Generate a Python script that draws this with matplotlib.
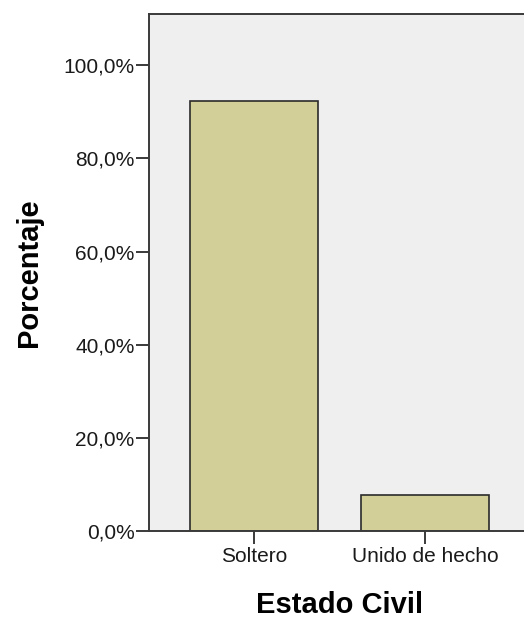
import matplotlib
matplotlib.use("Agg")
import matplotlib.pyplot as plt
from matplotlib.ticker import FuncFormatter

# data
categorias = ["Soltero", "Unido de hecho"]
porcentajes = [92.3, 7.7]
yticks = [0, 20, 40, 60, 80, 100]

plt.rcParams['font.family'] = ['Liberation Sans', 'DejaVu Sans']

fig = plt.figure(figsize=(5.24, 6.2), dpi=100)
# axes runs slightly past the right edge, as in the original export
ax = fig.add_axes([149 / 524, 89 / 620, 381 / 524, 517 / 620])
ax.set_facecolor('#EFEFEF')

x = list(range(len(categorias)))
ax.bar(x, porcentajes, width=0.75, color='#D3CF98',
       edgecolor='#2b2b2b', linewidth=1.2, zorder=2)

ax.set_xlim(-0.614, 1.614)
ax.set_ylim(0, 111)
ax.set_xticks(x)
ax.set_xticklabels(categorias)
ax.set_yticks(yticks)
ax.yaxis.set_major_formatter(FuncFormatter(lambda v, p: f"{v:.1f}%".replace('.', ',')))

for s in ax.spines.values():
    s.set_color('#3a3a3a')
    s.set_linewidth(1.4)

ax.tick_params(axis='both', direction='out', length=9.3, width=1.4,
               color='#3a3a3a', labelsize=15, labelcolor='#1a1a1a')
ax.tick_params(axis='y', pad=1.2)
ax.tick_params(axis='x', pad=2.5)

fig.text(339.5 / 524, 1 - 613 / 620, "Estado Civil", fontsize=21, fontweight='bold',
         ha='center', va='baseline', rotation_mode='anchor')
fig.text(37 / 524, 1 - 273 / 620, "Porcentaje", fontsize=21, fontweight='bold',
         ha='center', va='baseline', rotation=90, rotation_mode='anchor')

fig.savefig("out.png", dpi=100)
